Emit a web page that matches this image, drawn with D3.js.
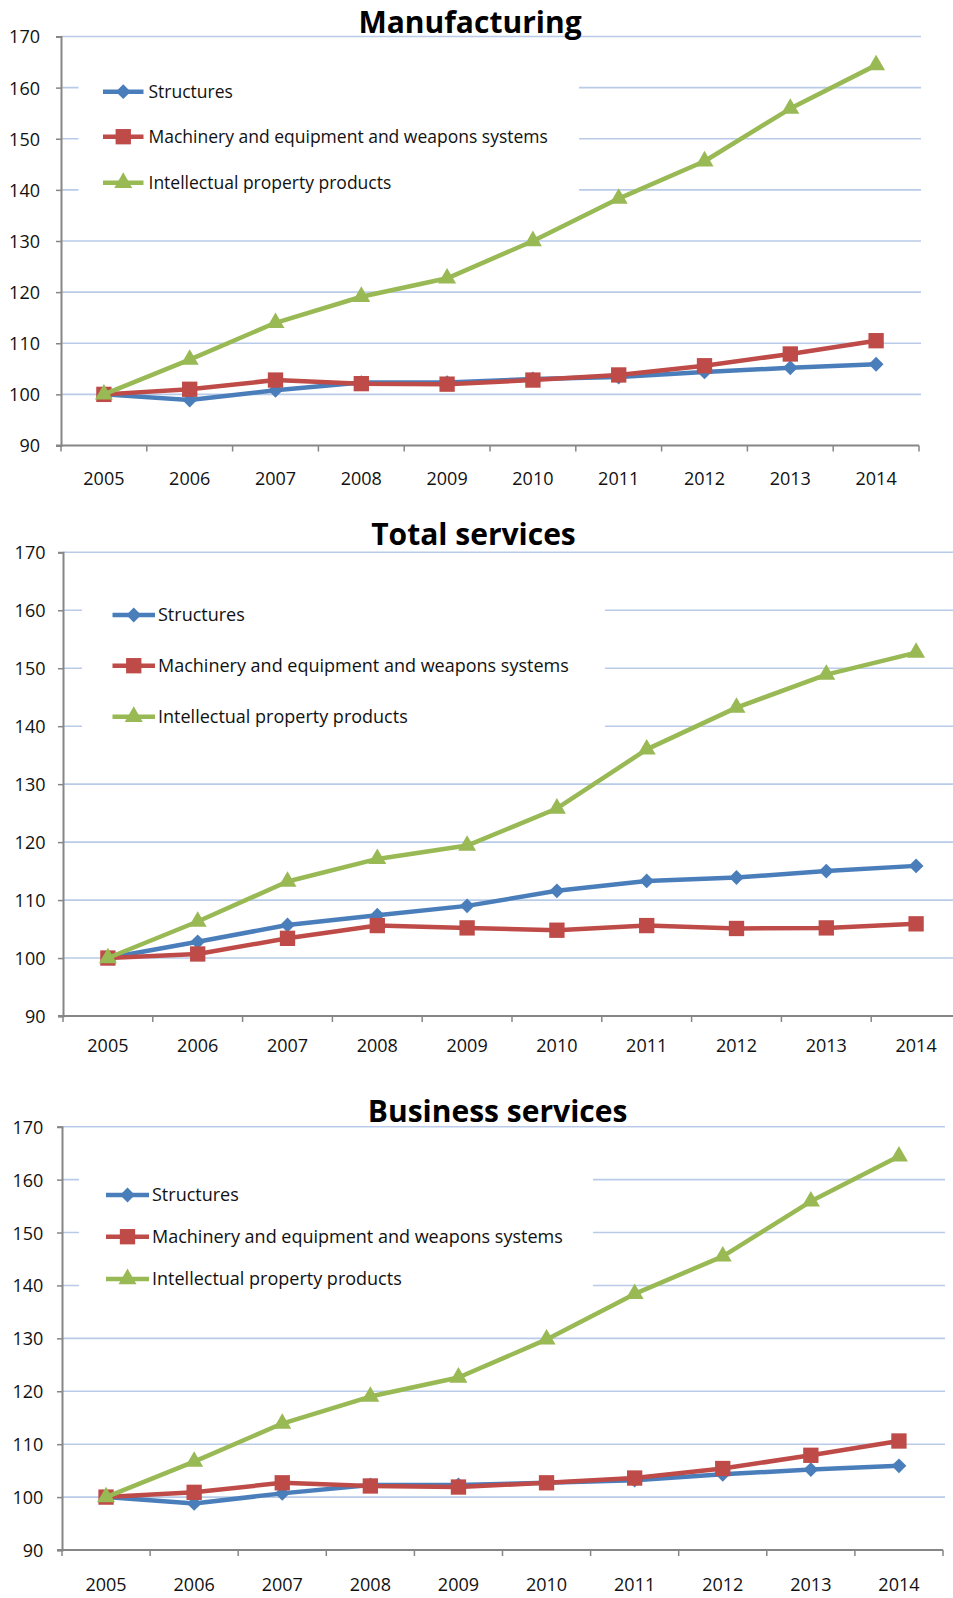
<!DOCTYPE html>
<html>
<head>
<meta charset="utf-8">
<script src="https://cdn.jsdelivr.net/npm/d3@7"></script>
<style>
  html, body { margin: 0; padding: 0; background: #fff; }
  svg { display: block; font-family: "Open Sans", "Liberation Sans", sans-serif; }
</style>
</head>
<body>
<script>
// Index, 2005 = 100
const years = [2005, 2006, 2007, 2008, 2009, 2010, 2011, 2012, 2013, 2014];
const yTicks = [90, 100, 110, 120, 130, 140, 150, 160, 170];
const seriesNames = [
  "Structures",
  "Machinery and equipment and weapons systems",
  "Intellectual property products"
];
const panelTitles = ["Manufacturing", "Total services", "Business services"];

const manufacturingStructures = [100, 98.9, 100.8, 102.3, 102.3, 103.0, 103.4, 104.4, 105.2, 105.9];
const manufacturingMachinery  = [100, 101.0, 102.8, 102.1, 102.0, 102.8, 103.8, 105.6, 107.9, 110.5];
const manufacturingIP         = [100, 106.8, 114.0, 119.1, 122.7, 130.0, 138.3, 145.6, 155.9, 164.4];

const servicesStructures = [100, 102.8, 105.7, 107.4, 109.0, 111.6, 113.3, 113.9, 115.0, 115.9];
const servicesMachinery  = [100, 100.7, 103.4, 105.6, 105.2, 104.8, 105.6, 105.1, 105.2, 105.9];
const servicesIP         = [100, 106.3, 113.2, 117.1, 119.4, 125.8, 136.0, 143.2, 148.9, 152.7];

const businessStructures = [100, 98.8, 100.7, 102.3, 102.3, 102.7, 103.2, 104.3, 105.2, 105.9];
const businessMachinery  = [100, 100.9, 102.7, 102.1, 101.9, 102.7, 103.6, 105.4, 107.9, 110.6];
const businessIP         = [100, 106.7, 113.9, 119.0, 122.6, 129.8, 138.4, 145.5, 155.9, 164.4];

// Series styling
const seriesColors = ["#4a7ebb", "#be4b48", "#98b954"];
const markerTypes = ["diamond", "square", "triangle"];

const svg = d3.select("body").append("svg")
  .attr("width", 953)
  .attr("height", 1598);

const panels = [
  {
    title: panelTitles[0],
    values: [manufacturingStructures, manufacturingMachinery, manufacturingIP],
    left: 61, right: 919, gridRight: 921, top: 36.5, bottom: 445.5,
    titleX: 470, titleY: 33, titleSize: 30,
    labelY: 479, tickGap: 21, fontSize: 18,
    legend: { x0: 78.5, y0: 62, x1: 579, y1: 212, lineX0: 103, lineX1: 143.5, textX: 148.5,
              rows: [91.7, 136.7, 182.7], fontSize: 17.5 }
  },
  {
    title: panelTitles[1],
    values: [servicesStructures, servicesMachinery, servicesIP],
    left: 63, right: 961, gridRight: 961, top: 552.3, bottom: 1016,
    titleX: 473.5, titleY: 545, titleSize: 30,
    labelY: 1046, tickGap: 17.5, fontSize: 18,
    legend: { x0: 82, y0: 585, x1: 605, y1: 745, lineX0: 112.5, lineX1: 155, textX: 158,
              rows: [615, 665.7, 716.7], fontSize: 18 }
  },
  {
    title: panelTitles[2],
    values: [businessStructures, businessMachinery, businessIP],
    left: 62, right: 943, gridRight: 945, top: 1126.7, bottom: 1550,
    titleX: 497.6, titleY: 1121.7, titleSize: 30,
    labelY: 1585, tickGap: 18.7, fontSize: 18,
    legend: { x0: 79, y0: 1160, x1: 593, y1: 1310, lineX0: 106, lineX1: 149, textX: 152,
              rows: [1195, 1236.7, 1279], fontSize: 18 }
  }
];

function markerPath(type) {
  if (type === "diamond") return d3.symbol(d3.symbolSquare, 110)();
  if (type === "square") return d3.symbol(d3.symbolSquare, 235)();
  return d3.symbol(d3.symbolTriangle, 140)();
}

function drawMarker(g, type, cx, cy, color) {
  g.append("path")
    .attr("d", markerPath(type))
    .attr("transform", `translate(${cx},${cy})` + (type === "diamond" ? " rotate(45)" : ""))
    .attr("fill", color);
}

function drawPanel(p) {
  const g = svg.append("g");

  const x = d3.scaleBand().domain(years).range([p.left, p.right]).padding(0);
  const y = d3.scaleLinear().domain([yTicks[0], yTicks[yTicks.length - 1]]).range([p.bottom, p.top]);
  const cx = d => x(d) + x.bandwidth() / 2;

  // Horizontal gridlines
  g.append("g").selectAll("line")
    .data(yTicks.slice(1))
    .join("line")
    .attr("x1", p.left).attr("x2", p.gridRight)
    .attr("y1", d => y(d)).attr("y2", d => y(d))
    .attr("stroke", "#b9cbe8")
    .attr("stroke-width", 1.6);

  // Legend box (white background over the gridlines)
  const L = p.legend;
  g.append("rect")
    .attr("x", L.x0).attr("y", L.y0)
    .attr("width", L.x1 - L.x0).attr("height", L.y1 - L.y0)
    .attr("fill", "#fff");

  // Y axis
  const yAxis = d3.axisLeft(y).tickValues(yTicks).tickSize(5).tickPadding(p.tickGap - 5);
  const ya = g.append("g").attr("transform", `translate(${p.left},0)`).call(yAxis);
  ya.select(".domain").attr("stroke", "#868686").attr("stroke-width", 2);
  ya.selectAll(".tick line").attr("stroke", "#868686").attr("stroke-width", 1.5);
  ya.selectAll(".tick text")
    .attr("font-size", p.fontSize)
    .attr("font-family", "Open Sans, sans-serif")
    .attr("fill", "#111")
    .attr("dy", "0.36em");

  // X axis: line, tick marks at category boundaries, labels at centres
  g.append("line")
    .attr("x1", p.left - 5).attr("x2", p.right)
    .attr("y1", p.bottom).attr("y2", p.bottom)
    .attr("stroke", "#868686").attr("stroke-width", 2);
  const boundaries = years.map(d => x(d)).concat([p.right]);
  g.append("g").selectAll("line")
    .data(boundaries)
    .join("line")
    .attr("x1", d => d).attr("x2", d => d)
    .attr("y1", p.bottom).attr("y2", p.bottom + 6)
    .attr("stroke", "#868686").attr("stroke-width", 1.5);
  const xAxis = d3.axisBottom(x).tickSize(0).tickPadding(0);
  const xa = g.append("g").attr("transform", `translate(0,${p.labelY})`).call(xAxis);
  xa.select(".domain").remove();
  xa.selectAll(".tick text")
    .attr("font-size", p.fontSize)
    .attr("font-family", "Open Sans, sans-serif")
    .attr("fill", "#111")
    .attr("dy", "0.36em");

  // Title
  g.append("text")
    .attr("x", p.titleX).attr("y", p.titleY)
    .attr("text-anchor", "middle")
    .attr("font-size", p.titleSize)
    .attr("font-weight", 700)
    .attr("fill", "#000")
    .text(p.title);

  // Series lines and markers
  p.values.forEach((vals, si) => {
    const color = seriesColors[si];
    const line = d3.line().x((d, i) => cx(years[i])).y(d => y(d));
    g.append("path")
      .datum(vals)
      .attr("d", line)
      .attr("fill", "none")
      .attr("stroke", color)
      .attr("stroke-width", 4.5)
      .attr("stroke-linejoin", "round");
    const mg = g.append("g");
    vals.forEach((v, i) => drawMarker(mg, markerTypes[si], cx(years[i]), y(v), color));
  });

  // Legend entries
  seriesNames.forEach((name, si) => {
    const ry = L.rows[si];
    const color = seriesColors[si];
    g.append("line")
      .attr("x1", L.lineX0).attr("x2", L.lineX1)
      .attr("y1", ry).attr("y2", ry)
      .attr("stroke", color).attr("stroke-width", 4.5);
    drawMarker(g, markerTypes[si], (L.lineX0 + L.lineX1) / 2, ry, color);
    g.append("text")
      .attr("x", L.textX).attr("y", ry)
      .attr("dy", "0.36em")
      .attr("font-size", L.fontSize)
      .attr("fill", "#111")
      .text(name);
  });
}

panels.forEach(drawPanel);
</script>
</body>
</html>
